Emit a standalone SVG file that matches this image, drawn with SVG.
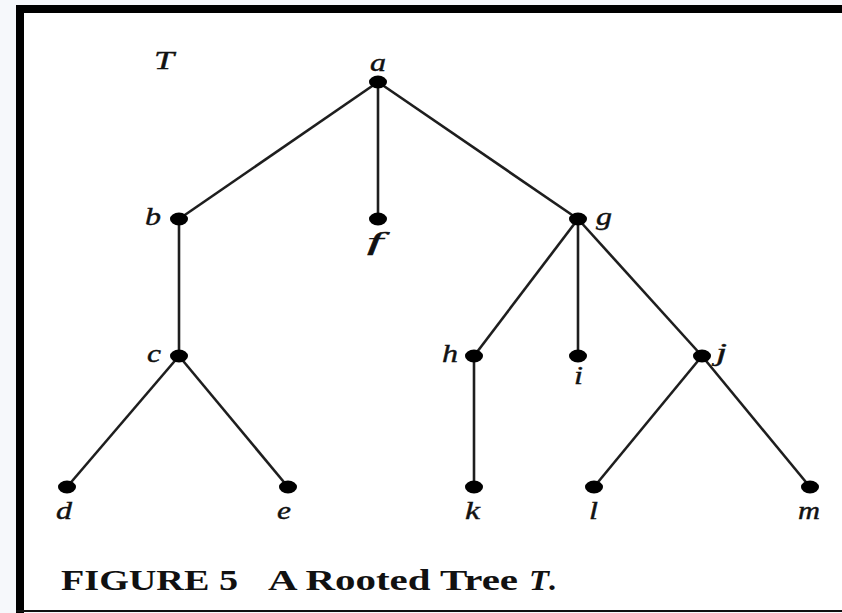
<svg xmlns="http://www.w3.org/2000/svg" width="842" height="613" viewBox="0 0 842 613">
  <style>
    .edge { stroke: #1e1e1e; stroke-width: 2.6; fill: none; }
    .dot { fill: #000; }
    .lbl { font-family: "Liberation Serif", "Times New Roman", serif; font-style: italic; font-size: 25px; fill: #111; stroke: #111; stroke-width: 0.4; }
    .cap { font-family: "Liberation Serif", "Times New Roman", serif; font-weight: bold; font-size: 30px; fill: #111; }
  </style>

  <!-- page background and frame -->
  <rect x="0" y="0" width="842" height="613" fill="#f6f8fb"/>
  <rect x="20" y="9" width="830" height="601" fill="#ffffff"/>
  <rect x="16" y="5" width="840" height="8" fill="#000"/>
  <rect x="16" y="5" width="8" height="608" fill="#000"/>
  <rect x="16" y="610" width="830" height="2" fill="#111"/>

  <!-- connectors -->
  <g id="edges">
    <line class="edge" x1="378" y1="82" x2="179" y2="219"/>
    <line class="edge" x1="378" y1="82" x2="378" y2="219"/>
    <line class="edge" x1="378" y1="82" x2="578" y2="219"/>
    <line class="edge" x1="179" y1="219" x2="179" y2="356"/>
    <line class="edge" x1="179" y1="356" x2="67" y2="487"/>
    <line class="edge" x1="179" y1="356" x2="288" y2="487"/>
    <line class="edge" x1="578" y1="219" x2="474" y2="356"/>
    <line class="edge" x1="578" y1="219" x2="578" y2="356"/>
    <line class="edge" x1="578" y1="219" x2="702" y2="356"/>
    <line class="edge" x1="474" y1="356" x2="474" y2="487"/>
    <line class="edge" x1="702" y1="356" x2="594" y2="487"/>
    <line class="edge" x1="702" y1="356" x2="810" y2="487"/>
  </g>

  <text class="lbl" x="154" y="69" textLength="20" lengthAdjust="spacingAndGlyphs">T</text>

  <g id="node-a"><ellipse class="dot" cx="378" cy="82" rx="9" ry="6.5"/><text class="lbl" x="370" y="71" textLength="16" lengthAdjust="spacingAndGlyphs">a</text></g>
  <g id="node-b"><ellipse class="dot" cx="179" cy="219" rx="9" ry="6.5"/><text class="lbl" x="145" y="225" textLength="16" lengthAdjust="spacingAndGlyphs">b</text></g>
  <g id="node-f"><ellipse class="dot" cx="378" cy="219" rx="9" ry="6.5"/><text class="lbl" x="367" y="250" textLength="16" lengthAdjust="spacingAndGlyphs">f</text></g>
  <g id="node-g"><ellipse class="dot" cx="578" cy="219" rx="9" ry="6.5"/><text class="lbl" x="596" y="225" textLength="16" lengthAdjust="spacingAndGlyphs">g</text></g>
  <g id="node-c"><ellipse class="dot" cx="179" cy="356" rx="9" ry="6.5"/><text class="lbl" x="147" y="362" textLength="14" lengthAdjust="spacingAndGlyphs">c</text></g>
  <g id="node-h"><ellipse class="dot" cx="474" cy="356" rx="9" ry="6.5"/><text class="lbl" x="442" y="362" textLength="16" lengthAdjust="spacingAndGlyphs">h</text></g>
  <g id="node-i"><ellipse class="dot" cx="578" cy="356" rx="9" ry="6.5"/><text class="lbl" x="574" y="384" textLength="9" lengthAdjust="spacingAndGlyphs">i</text></g>
  <g id="node-j"><ellipse class="dot" cx="702" cy="356" rx="9" ry="6.5"/><text class="lbl" x="716" y="361" textLength="11" lengthAdjust="spacingAndGlyphs">j</text></g>
  <g id="node-d"><ellipse class="dot" cx="67" cy="487" rx="9" ry="6.5"/><text class="lbl" x="56" y="519" textLength="16" lengthAdjust="spacingAndGlyphs">d</text></g>
  <g id="node-e"><ellipse class="dot" cx="288" cy="487" rx="9" ry="6.5"/><text class="lbl" x="277" y="519" textLength="14" lengthAdjust="spacingAndGlyphs">e</text></g>
  <g id="node-k"><ellipse class="dot" cx="474" cy="487" rx="9" ry="6.5"/><text class="lbl" x="465" y="519" textLength="15" lengthAdjust="spacingAndGlyphs">k</text></g>
  <g id="node-l"><ellipse class="dot" cx="594" cy="487" rx="9" ry="6.5"/><text class="lbl" x="589" y="519" textLength="9" lengthAdjust="spacingAndGlyphs">l</text></g>
  <g id="node-m"><ellipse class="dot" cx="810" cy="487" rx="9" ry="6.5"/><text class="lbl" x="798" y="519" textLength="22" lengthAdjust="spacingAndGlyphs">m</text></g>

  <!-- caption -->
  <text class="cap" x="61" y="590" textLength="177" lengthAdjust="spacingAndGlyphs">FIGURE 5</text>
  <text class="cap" x="268" y="590" textLength="250" lengthAdjust="spacingAndGlyphs">A Rooted Tree</text>
  <text class="cap" x="529" y="590" font-style="italic" textLength="20" lengthAdjust="spacingAndGlyphs">T</text>
  <text class="cap" x="548" y="590" textLength="8" lengthAdjust="spacingAndGlyphs">.</text>
</svg>
